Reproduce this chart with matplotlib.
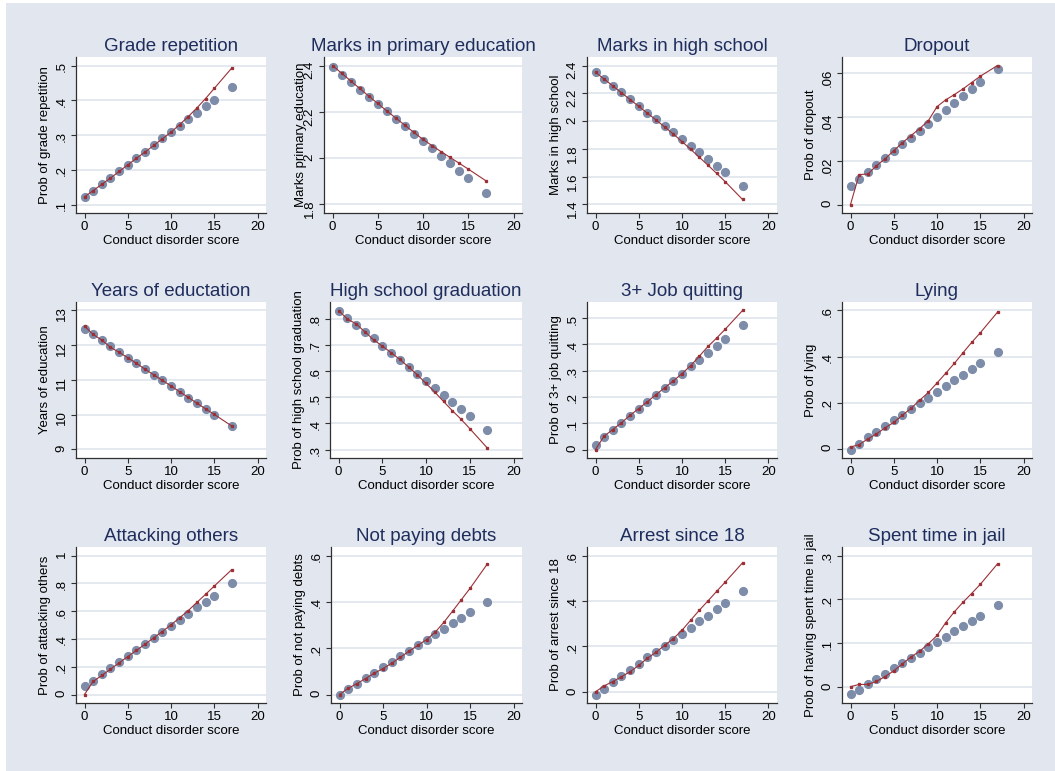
import matplotlib
matplotlib.use('Agg')
import matplotlib.pyplot as plt
from matplotlib.patches import Rectangle

plt.rcParams['font.family'] = ['Liberation Sans', 'DejaVu Sans']

# conduct disorder score (no one scored 16)
score = [0, 1, 2, 3, 4, 5, 6, 7, 8, 9, 10, 11, 12, 13, 14, 15, 17]

grade_rep_obs = [0.122, 0.140, 0.159, 0.177, 0.196, 0.214, 0.235, 0.252, 0.271,
                 0.290, 0.309, 0.327, 0.346, 0.364, 0.384, 0.401, 0.439]
grade_rep_fit = [0.122, 0.140, 0.158, 0.176, 0.195, 0.214, 0.233, 0.251, 0.270,
                 0.289, 0.308, 0.330, 0.353, 0.378, 0.405, 0.434, 0.492]

marks_prim_obs = [2.393, 2.361, 2.329, 2.296, 2.264, 2.233, 2.202, 2.171, 2.138,
                  2.106, 2.075, 2.044, 2.011, 1.979, 1.946, 1.914, 1.850]
marks_prim_fit = [2.400, 2.367, 2.334, 2.301, 2.268, 2.236, 2.204, 2.173, 2.142,
                  2.111, 2.081, 2.054, 2.028, 2.003, 1.978, 1.953, 1.901]

marks_hs_obs = [2.352, 2.301, 2.253, 2.208, 2.160, 2.109, 2.061, 2.015, 1.967,
                1.919, 1.874, 1.823, 1.775, 1.727, 1.679, 1.631, 1.535]
marks_hs_fit = [2.352, 2.302, 2.253, 2.204, 2.155, 2.106, 2.057, 2.008, 1.958,
                1.907, 1.853, 1.797, 1.740, 1.683, 1.624, 1.564, 1.436]

dropout_obs = [0.0085, 0.0116, 0.0148, 0.0180, 0.0214, 0.0246, 0.0275, 0.0305, 0.0337,
               0.0368, 0.0400, 0.0432, 0.0464, 0.0495, 0.0527, 0.0559, 0.0621]
dropout_fit = [0.0000, 0.0137, 0.0139, 0.0177, 0.0209, 0.0246, 0.0282, 0.0315, 0.0347,
               0.0383, 0.0447, 0.0478, 0.0502, 0.0528, 0.0557, 0.0586, 0.0635]

years_edu_obs = [12.464, 12.311, 12.139, 11.976, 11.804, 11.641, 11.478, 11.316, 11.144,
                 10.990, 10.818, 10.656, 10.493, 10.330, 10.167, 10.005, 9.679]
years_edu_fit = [12.55, 12.31, 12.15, 11.94, 11.80, 11.64, 11.48, 11.31, 11.15,
                 10.99, 10.83, 10.66, 10.50, 10.33, 10.17, 10.01, 9.68]

hs_grad_obs = [0.832, 0.803, 0.777, 0.751, 0.725, 0.697, 0.671, 0.644, 0.617,
               0.590, 0.564, 0.537, 0.510, 0.483, 0.456, 0.429, 0.376]
hs_grad_fit = [0.832, 0.800, 0.781, 0.751, 0.720, 0.696, 0.671, 0.645, 0.616,
               0.586, 0.553, 0.520, 0.484, 0.449, 0.416, 0.380, 0.306]

job_quit_obs = [0.019, 0.048, 0.073, 0.099, 0.127, 0.155, 0.181, 0.207, 0.234,
                0.262, 0.289, 0.316, 0.341, 0.369, 0.394, 0.421, 0.475]
job_quit_fit = [0.000, 0.051, 0.076, 0.102, 0.130, 0.156, 0.182, 0.209, 0.235,
                0.261, 0.289, 0.319, 0.355, 0.392, 0.424, 0.458, 0.529]

lying_obs = [-0.004, 0.022, 0.049, 0.072, 0.100, 0.123, 0.147, 0.172, 0.197,
             0.221, 0.246, 0.270, 0.296, 0.321, 0.346, 0.370, 0.421]
lying_fit = [0.007, 0.017, 0.042, 0.064, 0.090, 0.114, 0.145, 0.175, 0.210,
             0.244, 0.285, 0.327, 0.370, 0.416, 0.461, 0.503, 0.593]

attack_obs = [0.058, 0.096, 0.144, 0.189, 0.233, 0.276, 0.321, 0.362, 0.405,
              0.451, 0.492, 0.537, 0.580, 0.626, 0.669, 0.712, 0.801]
attack_fit = [0.000, 0.094, 0.137, 0.182, 0.228, 0.273, 0.317, 0.362, 0.408,
              0.453, 0.501, 0.552, 0.604, 0.663, 0.721, 0.780, 0.897]

debts_obs = [0.000, 0.022, 0.045, 0.071, 0.094, 0.118, 0.141, 0.165, 0.188,
             0.213, 0.237, 0.260, 0.283, 0.308, 0.331, 0.355, 0.401]
debts_fit = [0.000, 0.027, 0.047, 0.069, 0.092, 0.112, 0.135, 0.161, 0.187,
             0.212, 0.237, 0.269, 0.312, 0.360, 0.409, 0.458, 0.564]

arrest_obs = [-0.012, 0.013, 0.041, 0.069, 0.098, 0.123, 0.151, 0.176, 0.202,
              0.230, 0.256, 0.282, 0.310, 0.335, 0.363, 0.391, 0.443]
arrest_fit = [0.000, 0.026, 0.045, 0.066, 0.089, 0.116, 0.148, 0.174, 0.205,
              0.234, 0.271, 0.315, 0.359, 0.400, 0.442, 0.483, 0.568]

jail_obs = [-0.018, -0.007, 0.005, 0.018, 0.029, 0.042, 0.054, 0.066, 0.078,
            0.090, 0.101, 0.114, 0.127, 0.138, 0.150, 0.162, 0.186]
jail_fit = [0.000, 0.005, 0.005, 0.012, 0.023, 0.036, 0.052, 0.068, 0.081,
            0.098, 0.117, 0.146, 0.171, 0.193, 0.213, 0.234, 0.281]

titles = ['Grade repetition', 'Marks in primary education', 'Marks in high school', 'Dropout',
          'Years of eductation', 'High school graduation', '3+ Job quitting', 'Lying',
          'Attacking others', 'Not paying debts', 'Arrest since 18', 'Spent time in jail']
ylabels = ['Prob of grade repetition', 'Marks primary education', 'Marks in high school',
           'Prob of dropout', 'Years of education', 'Prob of high school graduation',
           'Prob of 3+ job quitting', 'Prob of lying', 'Prob of attacking others',
           'Prob of not paying debts', 'Prob of arrest since 18', 'Prob of having spent time in jail']
yticks = [[0.1, 0.2, 0.3, 0.4, 0.5], [1.8, 2.0, 2.2, 2.4], [1.4, 1.6, 1.8, 2.0, 2.2, 2.4],
          [0, 0.02, 0.04, 0.06], [9, 10, 11, 12, 13], [0.3, 0.4, 0.5, 0.6, 0.7, 0.8],
          [0, 0.1, 0.2, 0.3, 0.4, 0.5], [0, 0.2, 0.4, 0.6], [0, 0.2, 0.4, 0.6, 0.8, 1.0],
          [0, 0.2, 0.4, 0.6], [0, 0.2, 0.4, 0.6], [0, 0.1, 0.2, 0.3]]
xticks = [0, 5, 10, 15, 20]

observed = [grade_rep_obs, marks_prim_obs, marks_hs_obs, dropout_obs,
            years_edu_obs, hs_grad_obs, job_quit_obs, lying_obs,
            attack_obs, debts_obs, arrest_obs, jail_obs]
fitted = [grade_rep_fit, marks_prim_fit, marks_hs_fit, dropout_fit,
          years_edu_fit, hs_grad_fit, job_quit_fit, lying_fit,
          attack_fit, debts_fit, arrest_fit, jail_fit]

BG = '#E1E6EF'
GRID = '#DCE3EC'
DOT = '#7D8CA9'
FIT = '#9B3036'
TITLE = '#1E2D5C'

W, H = 1055, 771
fig = plt.figure(figsize=(W / 100, H / 100), dpi=100)
fig.patch.set_facecolor('white')
fig.patches.append(Rectangle((6 / W, 0), 1 - 6 / W, 1 - 3 / H, transform=fig.transFigure,
                             facecolor=BG, edgecolor='none', zorder=-10))

# plot region edges in pixels: rows (top, bottom), columns (left, right) per row
row_tb = [(57, 213), (302, 458), (547, 703)]
col_lr = [[(76, 266), (324, 522), (587, 777), (842, 1032)],
          [(76, 266), (330, 522), (587, 777), (842, 1032)],
          [(76, 266), (331, 522), (587, 777), (842, 1032)]]
# distance (px) from y axis to the near edge of the y title
label_off = [25, 17, 25, 25, 25, 25, 25, 25, 25, 25, 25, 25]
MARGIN = 8.5


def stata_fmt(v):
    s = f'{v:g}'
    if s.startswith('0.'):
        s = s[1:]
    elif s.startswith('-0.'):
        s = '-' + s[2:]
    return s


for i in range(12):
    r, c = divmod(i, 4)
    top, bot = row_tb[r]
    left, right = col_lr[r][c]
    pw, ph = right - left, bot - top
    ax = fig.add_axes([left / W, 1 - bot / H, pw / W, ph / H])
    ax.set_facecolor('white')

    ax.plot(score, observed[i], 'o', ms=5.6, color=DOT, mec=DOT, zorder=3)
    ax.plot(score, fitted[i], '-s', lw=0.8, ms=1.4, color=FIT, zorder=4)

    ticks = yticks[i]
    lo = min(min(observed[i]), min(fitted[i]), ticks[0])
    hi = max(max(observed[i]), max(fitted[i]), ticks[-1])
    pad = (hi - lo) * MARGIN / (ph - 2 * MARGIN)
    ax.set_ylim(lo - pad, hi + pad)
    xpad = 20 * MARGIN / (pw - 2 * MARGIN)
    ax.set_xlim(-xpad, 20 + xpad)

    ax.set_yticks(ticks)
    ax.set_yticklabels([stata_fmt(t) for t in ticks])
    ax.set_xticks(xticks)
    ax.set_xticklabels([str(t) for t in xticks])
    ax.grid(axis='y', color=GRID, lw=1.1, zorder=0)
    ax.set_axisbelow(True)

    for side in ['top', 'right']:
        ax.spines[side].set_visible(False)
    for side in ['left', 'bottom']:
        ax.spines[side].set_color('#303030')
        ax.spines[side].set_linewidth(0.9)
    ax.tick_params(axis='both', length=3.6, width=0.8, color='#303030',
                   labelsize=9.5, pad=2.5)
    ax.tick_params(axis='y', labelrotation=90)

    ax.set_title(titles[i], fontsize=13.5, color=TITLE, pad=4.5)
    ax.set_xlabel('Conduct disorder score', fontsize=9.5, labelpad=1)
    ax.set_ylabel(ylabels[i], fontsize=9.5)
    ax.yaxis.set_label_coords(-label_off[i] / pw, 0.5)

fig.savefig('out.png', dpi=100, facecolor=fig.get_facecolor())
